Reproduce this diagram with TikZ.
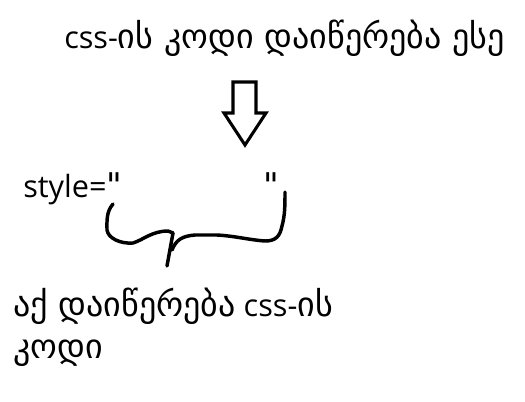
\documentclass[tikz,border=0pt]{standalone}
\usepackage{fontspec}
\setmainfont{Open Sans}
\newfontfamily\geo[Scale=1.11]{DejaVu Sans}
\begin{document}
\begin{tikzpicture}[x=0.75pt,y=-0.75pt,
  txt/.style={inner sep=0pt,anchor=base west,font=\fontsize{23}{27}\selectfont},
  pen/.style={line width=2.6pt,line cap=round,line join=round}]
\useasboundingbox (0,0) rectangle (525,401);
\fill[white] (0,0) rectangle (525,401);
\node[txt] (top) at (64,48) {css-{\geo ის კოდი დაიწერება ესე}};
% hollow arrow
\draw[line width=2.3pt,line join=miter] (233,82) -- (256,82) -- (256,113) -- (266,113) -- (245,145) -- (224,113) -- (233,113) -- cycle;
\node[txt] (style) at (23,197) {style={\geo "}};
\node[txt] (q2) at (263,197) {{\geo "}};
% brace
\coordinate (j) at (173,233);
\draw[pen] (113,204) .. controls (106,212) and (107,222) .. (107,230)
  .. controls (108,238) and (120,244) .. (133,243)
  .. controls (143,240) and (152,231) .. (168,231) -- (j);
\draw[pen] (j) -- (167,266);
\draw[pen] (172,250) .. controls (176,240) and (182,236) .. (195,235)
  -- (217,235) .. controls (235,236) and (250,240) .. (265,241)
  .. controls (276,241) and (280,236) .. (282,226)
  .. controls (285,215) and (285,205) .. (285,192);
\node[txt] (b1) at (13,316) {{\geo აქ დაიწერება} css-{\geo ის}};
\node[txt] (b2) at (13,358) {{\geo კოდი}};
\end{tikzpicture}
\end{document}
